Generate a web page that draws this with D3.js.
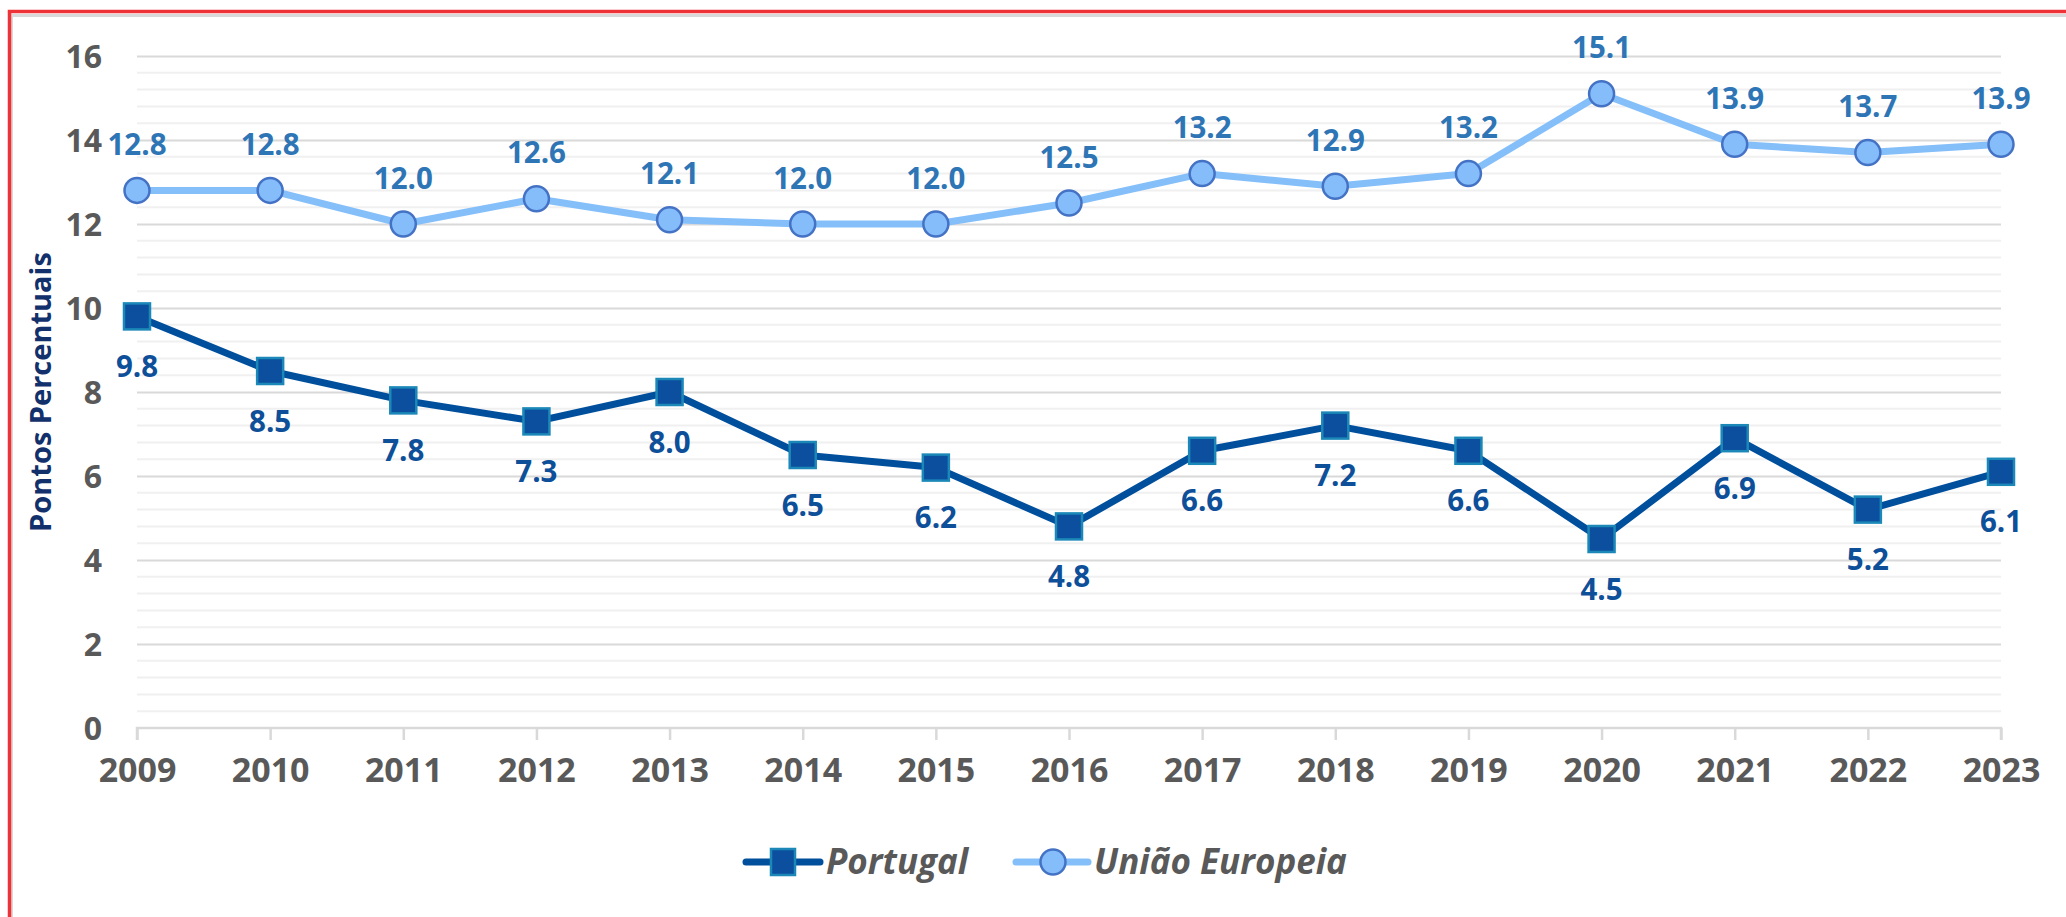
<!DOCTYPE html>
<html lang="pt">
  <head>
    <meta charset="UTF-8">
    <title>Portugal vs União Europeia</title>
    <script src="https://d3js.org/d3.v7.min.js"></script>
    <style>
      body { margin: 0; background: #fff; }
      svg { display: block; font-family: "Open Sans", "Noto Sans", sans-serif; }
    </style>
  </head>
  <body>
    <div id="chart"></div>
    <script>
      // data
      const years = [2009, 2010, 2011, 2012, 2013, 2014, 2015, 2016, 2017, 2018, 2019, 2020, 2021, 2022, 2023];
      const portugal = [9.8, 8.5, 7.8, 7.3, 8.0, 6.5, 6.2, 4.8, 6.6, 7.2, 6.6, 4.5, 6.9, 5.2, 6.1];
      const ue = [12.8, 12.8, 12.0, 12.6, 12.1, 12.0, 12.0, 12.5, 13.2, 12.9, 13.2, 15.1, 13.9, 13.7, 13.9];
      const yTicks = [0, 2, 4, 6, 8, 10, 12, 14, 16];
      const seriesNames = ["Portugal", "União Europeia"];

      const W = 2066, H = 917;
      const margin = { top: 56, right: 65, bottom: 189, left: 137 };
      const width = W - margin.left - margin.right;
      const height = H - margin.top - margin.bottom;

      const svg = d3.select("#chart").append("svg")
          .attr("width", W)
          .attr("height", H);

      // red frame (top and left visible), with a soft grey shadow inside
      svg.append("path")
          .attr("d", "M9.5,917 V13.5 H2066")
          .attr("fill", "none")
          .attr("stroke", "#d9d9d9")
          .attr("stroke-width", 3)
          .attr("transform", "translate(2,2)");
      svg.append("path")
          .attr("d", "M9.5,917 V11.5 H2066")
          .attr("fill", "none")
          .attr("stroke", "#ee3338")
          .attr("stroke-width", 3.5);

      const g = svg.append("g")
          .attr("transform", "translate(" + margin.left + "," + margin.top + ")");

      const x = d3.scaleLinear().domain([2009, 2023]).range([0, width]);
      const y = d3.scaleLinear().domain([0, 16]).range([height, 0]);

      // minor grid every 0.4
      const minor = d3.range(0, 16.01, 0.4).filter(v => Math.abs(v / 2 - Math.round(v / 2)) > 0.01);
      g.append("g").selectAll("line")
        .data(minor)
        .join("line")
          .attr("x1", 0).attr("x2", width)
          .attr("y1", d => y(d)).attr("y2", d => y(d))
          .attr("stroke", "#f0f0f0")
          .attr("stroke-width", 2);

      // major grid
      g.append("g")
          .call(d3.axisLeft(y).tickValues(yTicks.filter(d => d > 0)).tickSize(-width).tickFormat(""))
          .call(a => a.select(".domain").remove())
          .call(a => a.selectAll("line").attr("stroke", "#d9d9d9").attr("stroke-width", 2));

      // y labels
      g.append("g").selectAll("text")
        .data(yTicks)
        .join("text")
          .attr("x", -35)
          .attr("y", d => y(d))
          .attr("dy", "0.36em")
          .attr("text-anchor", "end")
          .attr("fill", "#595959")
          .style("font-size", "32px")
          .style("font-weight", "bold")
          .text(d => d);

      // x axis
      const xAxis = g.append("g")
          .attr("transform", "translate(0," + height + ")")
          .call(d3.axisBottom(x).tickValues(years).tickFormat(d3.format("d")).tickSize(12).tickPadding(18));
      xAxis.select(".domain").attr("stroke", "#d9d9d9").attr("stroke-width", 2.5)
          .attr("d", "M0,12V0H" + width + "V12");
      xAxis.selectAll(".tick line").attr("stroke", "#d9d9d9").attr("stroke-width", 2.5);
      xAxis.selectAll(".tick text")
          .attr("fill", "#595959")
          .style("font-size", "34px")
          .style("font-weight", "bold")
          .style("font-family", "'Open Sans', sans-serif");

      // y title
      svg.append("text")
          .attr("transform", "translate(41,392) rotate(-90)")
          .attr("dy", "0.35em")
          .attr("text-anchor", "middle")
          .attr("fill", "#12306b")
          .style("font-size", "29px")
          .style("font-weight", "bold")
          .text("Pontos Percentuais");

      const line = d3.line()
          .x((d, i) => x(years[i]))
          .y(d => y(d));

      // UE series
      g.append("path")
          .datum(ue)
          .attr("fill", "none")
          .attr("stroke", "#85bffa")
          .attr("stroke-width", 7)
          .attr("stroke-linejoin", "round")
          .attr("d", line);
      g.append("g").selectAll("circle")
        .data(ue)
        .join("circle")
          .attr("cx", (d, i) => x(years[i]))
          .attr("cy", d => y(d))
          .attr("r", 12.5)
          .attr("fill", "#85bdfb")
          .attr("stroke", "#4472c4")
          .attr("stroke-width", 2.5);
      g.append("g").selectAll("text")
        .data(ue)
        .join("text")
          .attr("x", (d, i) => x(years[i]))
          .attr("y", d => y(d) - 46)
          .attr("dy", "0.36em")
          .attr("text-anchor", "middle")
          .attr("fill", "#2e75b6")
          .style("font-size", "29.5px")
          .style("font-weight", "bold")
          .text(d => d.toFixed(1));

      // Portugal series
      g.append("path")
          .datum(portugal)
          .attr("fill", "none")
          .attr("stroke", "#004f9c")
          .attr("stroke-width", 7)
          .attr("stroke-linejoin", "round")
          .attr("d", line);
      g.append("g").selectAll("rect")
        .data(portugal)
        .join("rect")
          .attr("x", (d, i) => x(years[i]) - 13)
          .attr("y", d => y(d) - 13)
          .attr("width", 26)
          .attr("height", 26)
          .attr("fill", "#0b4f9e")
          .attr("stroke", "#1b88b8")
          .attr("stroke-width", 2.5);
      g.append("g").selectAll("text")
        .data(portugal)
        .join("text")
          .attr("x", (d, i) => x(years[i]))
          .attr("y", d => y(d) + 50)
          .attr("dy", "0.36em")
          .attr("text-anchor", "middle")
          .attr("fill", "#0e4f99")
          .style("font-size", "29.5px")
          .style("font-weight", "bold")
          .text(d => d.toFixed(1));

      // legend
      const legend = svg.append("g").attr("transform", "translate(0,862)");
      const pt = legend.append("g");
      pt.append("line").attr("x1", 746).attr("x2", 820).attr("y1", 0).attr("y2", 0)
          .attr("stroke", "#004f9c").attr("stroke-width", 7).attr("stroke-linecap", "round");
      pt.append("rect").attr("x", 771).attr("y", -13).attr("width", 24).attr("height", 26)
          .attr("fill", "#0b4f9e").attr("stroke", "#1b88b8").attr("stroke-width", 2.5);
      pt.append("text").attr("x", 826).attr("dy", "0.35em")
          .attr("fill", "#595959").style("font-size", "35px").style("font-weight", "bold").style("font-style", "italic")
          .text(seriesNames[0]);
      const eu = legend.append("g");
      eu.append("line").attr("x1", 1016).attr("x2", 1088).attr("y1", 0).attr("y2", 0)
          .attr("stroke", "#85bffa").attr("stroke-width", 7).attr("stroke-linecap", "round");
      eu.append("circle").attr("cx", 1053).attr("cy", 0).attr("r", 12.5)
          .attr("fill", "#85bdfb").attr("stroke", "#4472c4").attr("stroke-width", 2.5);
      eu.append("text").attr("x", 1094).attr("dy", "0.35em")
          .attr("fill", "#595959").style("font-size", "35px").style("font-weight", "bold").style("font-style", "italic")
          .text(seriesNames[1]);
    </script>
  </body>
</html>
